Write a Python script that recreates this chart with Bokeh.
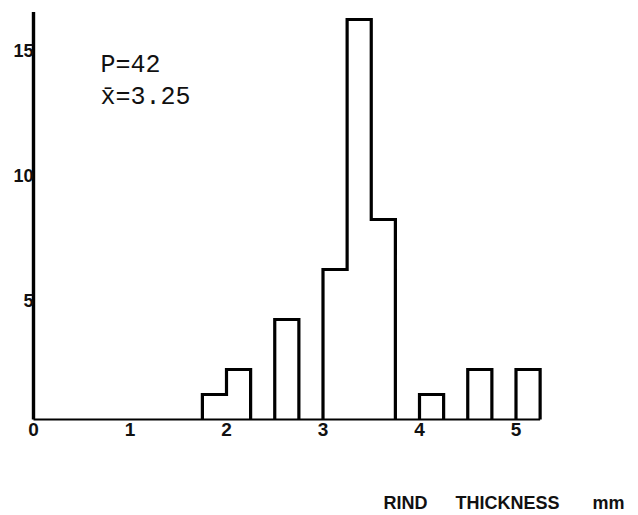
from bokeh.plotting import figure
from bokeh.models import Label, ColumnDataSource
from bokeh.core.properties import value
from bokeh.embed import file_html
from bokeh.resources import INLINE

# Histogram of rind thickness (mm), bins 0.25 mm wide
bin_left = [1.75, 2.0, 2.5, 3.0, 3.25, 3.5, 4.0, 4.5, 5.0]
counts = [1, 2, 4, 6, 16, 8, 1, 2, 2]
bin_width = 0.25

x_ticks = [0, 1, 2, 3, 4, 5]
y_ticks = [5, 10, 15]
n_total = sum(counts)
mean_text = "x\u0304=3.25"
x_title_words = ["RIND", "THICKNESS", "mm"]

W, H = 638, 515
ox, oy = 33, 419          # pixel position of the origin
sx, sy = 96.5, 25.0       # pixels per unit

p = figure(width=W, height=H, output_backend="svg", toolbar_location=None,
           x_range=(-ox / sx, (W - ox) / sx), y_range=(-(H - oy) / sy, oy / sy),
           min_border=0, outline_line_color=None)
p.axis.visible = False
p.grid.visible = False

# Outline of each run of adjacent bins, drawn as a stepped contour
groups = []
for l, c in zip(bin_left, counts):
    if groups and abs(groups[-1][-1][0] + bin_width - l) < 1e-9:
        groups[-1].append((l, c))
    else:
        groups.append([(l, c)])

for g in groups:
    xs, ys = [g[0][0]], [0]
    for l, c in g:
        xs += [l, l + bin_width]
        ys += [c, c]
    xs.append(g[-1][0] + bin_width)
    ys.append(0)
    p.line(xs, ys, line_color="black", line_width=3.2, line_join="miter")

# Axes drawn by hand
x_end = bin_left[-1] + bin_width
p.line([0, x_end], [0, 0], line_color="black", line_width=2.2)
p.line([0, 0], [0, 16.3], line_color="black", line_width=3.4)

tick_font = value("Liberation Sans")
src_x = ColumnDataSource(dict(x=x_ticks, y=[0] * len(x_ticks),
                              t=[str(v) for v in x_ticks]))
p.text(x="x", y="y", text="t", source=src_x, text_font=tick_font,
       text_font_size="19px", text_font_style="bold", text_align="center",
       text_baseline="top", y_offset=3, text_color="#111111")

src_y = ColumnDataSource(dict(x=[0] * len(y_ticks), y=y_ticks,
                              t=[str(v) for v in y_ticks]))
p.text(x="x", y="y", text="t", source=src_y, text_font=tick_font,
       text_font_size="18px", text_font_style="bold", text_align="right",
       text_baseline="middle", x_offset=0, y_offset=6, text_color="#111111")

# Summary statistics
for txt, ybase in [(f"P={n_total}", H - 65), (mean_text, H - 97)]:
    p.add_layout(Label(x=100, y=ybase, x_units="screen", y_units="screen",
                       text=txt, text_font="Liberation Mono",
                       text_font_size="25px", text_color="#111111",
                       text_baseline="alphabetic"))

# Axis title
for word, xpos in zip(x_title_words, [383, 455, 592]):
    p.add_layout(Label(x=xpos, y=H - 502, x_units="screen", y_units="screen",
                       text=word, text_font="Liberation Sans",
                       text_font_style="bold", text_font_size="18px",
                       text_color="#111111", text_baseline="alphabetic"))

open("out.html", "w").write(file_html(p, INLINE))
